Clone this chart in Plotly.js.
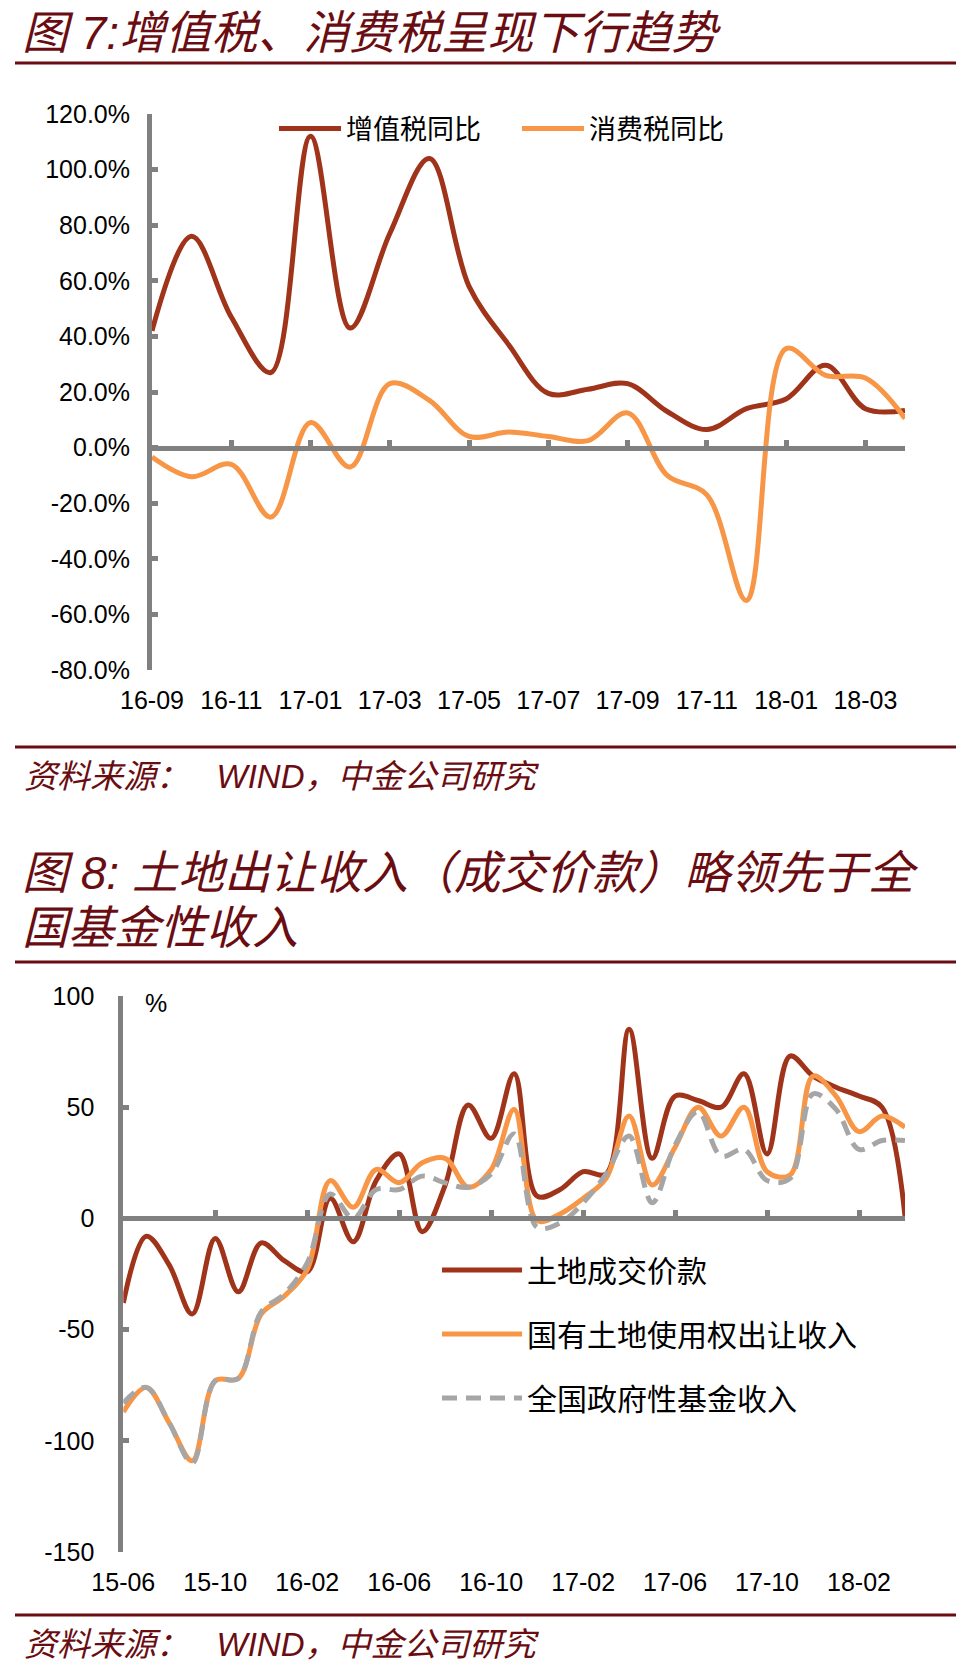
<!DOCTYPE html>
<html>
<head>
<meta charset="utf-8">
<script src="https://cdn.plot.ly/plotly-3.0.1.min.js"></script>
<style>
  html, body { margin: 0; padding: 0; background: #ffffff; }
  #chart { width: 980px; height: 1669px; }
</style>
</head>
<body>
<div id="chart"></div>
<script>
// ---------- Chart 1 data ----------
const months1 = ['16-09','16-10','16-11','16-12','17-01','17-02','17-03','17-04','17-05','17-06',
                 '17-07','17-08','17-09','17-10','17-11','17-12','18-01','18-02','18-03','18-04'];
const ticks1 = ['16-09','16-11','17-01','17-03','17-05','17-07','17-09','17-11','18-01','18-03'];
const yTicks1 = [-80, -60, -40, -20, 0, 20, 40, 60, 80, 100, 120];
const yTickLabels1 = ['-80.0%','-60.0%','-40.0%','-20.0%','0.0%','20.0%','40.0%','60.0%','80.0%','100.0%','120.0%'];
const vatYoY = [42, 76, 47, 27, 112, 43, 77, 104, 58, 37, 19.5, 21, 23, 13, 6.5, 14, 17.5, 29.6, 14, 13.4];
const consumptionTaxYoY = [-3.4, -10.5, -6, -25, 9, -7, 23, 17, 4, 5.6, 4, 2.5, 12.5, -10, -17, -55, 35.6, 26, 25, 10.5];
const names1 = ['增值税同比', '消费税同比'];

// ---------- Chart 2 data ----------
const months2 = ['15-06','15-07','15-08','15-09','15-10','15-11','15-12','16-01','16-02','16-03',
                 '16-04','16-05','16-06','16-07','16-08','16-09','16-10','16-11','16-12','17-01',
                 '17-02','17-03','17-04','17-05','17-06','17-07','17-08','17-09','17-10','17-11',
                 '17-12','18-01','18-02','18-03','18-04'];
const ticks2 = ['15-06','15-10','16-02','16-06','16-10','17-02','17-06','17-10','18-02'];
const yTicks2 = [-150, -100, -50, 0, 50, 100];
const yTickLabels2 = ['-150', '-100', '-50', '0', '50', '100'];
const landDealPrice = [-38, -8, -21, -43, -9, -33, -11, -19, -24, 9, -10.5, 17, 29, -6, 15, 51, 36, 65, 10, 13,
                       21, 20, 85, 27, 55, 53, 50, 65, 29, 73, 64, 59, 55, 50, 1];
const landUseRightIncome = [-87, -76, -92, -109, -73, -72, -43, -35, -23, 17, 5, 22, 16, 25, 27, 14, 22, 49, -1, 2,
                            9, 18, 46, 15, 32, 50, 37, 50, 21, 19.5, 64, 55, 39, 46, 41];
const govFundIncome = [-83, -76, -92, -110, -73, -72, -42, -34, -20, 11, 0, 13, 13, 19, 16, 14, 20, 38, -4, -2,
                       7, 20, 37, 7, 33, 48, 28, 31, 17, 18, 56, 49, 31, 35, 35];
const names2 = ['土地成交价款', '国有土地使用权出让收入', '全国政府性基金收入'];

// ---------- styling ----------
const RED = '#A0341A', ORANGE = '#F79646', GRAY = '#A6A6A6', AXIS = '#808080', MAROON = '#6A0D12';
const H = 1669, W = 980;
const py = v => 1 - v / H;   // pixel (top-down) -> paper
const px = v => v / W;
const tickFont = {family: 'Liberation Sans, Arial, sans-serif', size: 25, color: '#000000'};
const cjk = 'Liberation Sans, Noto Sans CJK SC, sans-serif';

// plot areas (pixels)
const c1 = {l: 152, r: 905, t: 114, b: 670};
const c2 = {l: 123.3, r: 905, t: 996, b: 1552};
const yr1 = [-80, 120], yr2 = [-150, 100];
const zero1 = py(c1.b - (0 - yr1[0]) / (yr1[1] - yr1[0]) * (c1.b - c1.t));
const zero2 = py(c2.b - (0 - yr2[0]) / (yr2[1] - yr2[0]) * (c2.b - c2.t));

const line = (color, dash) => ({color: color, width: 5, shape: 'spline', smoothing: 1, dash: dash || 'solid'});

const traces = [
  {type: 'scatter', mode: 'lines', name: names1[0], x: months1, y: vatYoY, xaxis: 'x', yaxis: 'y',
   line: line(RED), legend: 'legend', hoverinfo: 'x+y'},
  {type: 'scatter', mode: 'lines', name: names1[1], x: months1, y: consumptionTaxYoY, xaxis: 'x', yaxis: 'y',
   line: line(ORANGE), legend: 'legend', hoverinfo: 'x+y'},
  {type: 'scatter', mode: 'lines', x: months1, y: months1.map(() => null), xaxis: 'x2', yaxis: 'y',
   showlegend: false, hoverinfo: 'skip'},

  {type: 'scatter', mode: 'lines', name: names2[0], x: months2, y: landDealPrice, xaxis: 'x3', yaxis: 'y3',
   line: line(RED), legend: 'legend2', legendgroup: 'a', hoverinfo: 'x+y'},
  {type: 'scatter', mode: 'lines', name: names2[1], x: months2, y: landUseRightIncome, xaxis: 'x3', yaxis: 'y3',
   line: line(ORANGE), legend: 'legend2', legendgroup: 'b', hoverinfo: 'x+y'},
  {type: 'scatter', mode: 'lines', name: names2[2], x: months2, y: govFundIncome, xaxis: 'x3', yaxis: 'y3',
   line: line(GRAY, '15px,9px'), legend: 'legend2', legendgroup: 'c', hoverinfo: 'x+y'},
  {type: 'scatter', mode: 'lines', x: months2, y: months2.map(() => null), xaxis: 'x4', yaxis: 'y3',
   showlegend: false, hoverinfo: 'skip'}
];

const baseX = {
  type: 'category', showgrid: false, zeroline: false, showline: false, ticks: '',
  tickmode: 'array', tickfont: tickFont, ticklabelstandoff: 13, fixedrange: true
};
const zeroX = {
  type: 'category', showgrid: false, zeroline: false, showline: true, linecolor: AXIS, linewidth: 5,
  ticks: 'inside', ticklen: 6, tickwidth: 5, tickcolor: AXIS, showticklabels: false,
  tickmode: 'array', anchor: 'free', fixedrange: true
};
const baseY = {
  showgrid: false, zeroline: false, showline: true, linecolor: AXIS, linewidth: 5,
  ticks: 'inside', ticklen: 6, tickwidth: 5, tickcolor: AXIS, tickfont: tickFont, fixedrange: true,
  tickmode: 'array'
};

const layout = {
  width: W, height: H,
  margin: {l: 0, r: 0, t: 0, b: 0},
  paper_bgcolor: '#ffffff', plot_bgcolor: 'rgba(0,0,0,0)',
  showlegend: true,
  xaxis: Object.assign({}, baseX, {domain: [px(c1.l), px(c1.r)], anchor: 'y', range: [0, months1.length - 1],
    tickvals: ticks1, ticktext: ticks1}),
  xaxis2: Object.assign({}, zeroX, {overlaying: 'x', position: zero1, range: [0, months1.length - 1],
    tickvals: ticks1}),
  yaxis: Object.assign({}, baseY, {domain: [py(c1.b), py(c1.t)], anchor: 'x', range: yr1,
    tickvals: yTicks1, ticktext: yTickLabels1, ticklabelstandoff: 12}),
  xaxis3: Object.assign({}, baseX, {domain: [px(c2.l), px(c2.r)], anchor: 'y3', range: [0, months2.length - 1],
    tickvals: ticks2, ticktext: ticks2}),
  xaxis4: Object.assign({}, zeroX, {overlaying: 'x3', position: zero2, range: [0, months2.length - 1],
    tickvals: ticks2}),
  yaxis3: Object.assign({}, baseY, {domain: [py(c2.b), py(c2.t)], anchor: 'x3', range: yr2,
    tickvals: yTicks2, ticktext: yTickLabels2, ticklabelstandoff: 19}),
  legend: {orientation: 'h', x: px(274), xanchor: 'left', y: py(129), yanchor: 'middle',
    font: {family: 'Noto Sans CJK SC, sans-serif', size: 27, color: '#000000'},
    bgcolor: 'rgba(0,0,0,0)', itemwidth: 62, entrywidth: 166, itemclick: false, itemdoubleclick: false},
  legend2: {orientation: 'v', x: px(437), xanchor: 'left', y: py(1244), yanchor: 'top',
    font: {family: 'Noto Sans CJK SC, sans-serif', size: 30, color: '#000000'},
    bgcolor: 'rgba(0,0,0,0)', itemwidth: 80, tracegroupgap: 22, traceorder: 'grouped',
    itemclick: false, itemdoubleclick: false},
  shapes: [
    {type: 'line', xref: 'paper', yref: 'paper', x0: px(15), x1: px(956), y0: py(63), y1: py(63), line: {color: MAROON, width: 3}},
    {type: 'line', xref: 'paper', yref: 'paper', x0: px(15), x1: px(956), y0: py(747), y1: py(747), line: {color: MAROON, width: 3}},
    {type: 'line', xref: 'paper', yref: 'paper', x0: px(15), x1: px(956), y0: py(962), y1: py(962), line: {color: MAROON, width: 3}},
    {type: 'line', xref: 'paper', yref: 'paper', x0: px(15), x1: px(956), y0: py(1615), y1: py(1615), line: {color: MAROON, width: 3}}
  ],
  annotations: [
    {xref: 'paper', yref: 'paper', x: px(20), y: py(33), xanchor: 'left', yanchor: 'middle', showarrow: false,
     text: '<i>图 7:增值税、消费税呈现下行趋势</i>', font: {family: cjk, size: 46, color: MAROON}},
    {xref: 'paper', yref: 'paper', x: px(22), y: py(776), xanchor: 'left', yanchor: 'middle', showarrow: false,
     text: '<i>资料来源：   WIND，中金公司研究</i>', font: {family: cjk, size: 33, color: MAROON}},
    {xref: 'paper', yref: 'paper', x: px(20), y: py(873), xanchor: 'left', yanchor: 'middle', showarrow: false,
     text: '<i>图 8: 土地出让收入（成交价款）略领先于全</i>', font: {family: cjk, size: 46, color: MAROON}},
    {xref: 'paper', yref: 'paper', x: px(20), y: py(928), xanchor: 'left', yanchor: 'middle', showarrow: false,
     text: '<i>国基金性收入</i>', font: {family: cjk, size: 46, color: MAROON}},
    {xref: 'paper', yref: 'paper', x: px(22), y: py(1644), xanchor: 'left', yanchor: 'middle', showarrow: false,
     text: '<i>资料来源：   WIND，中金公司研究</i>', font: {family: cjk, size: 33, color: MAROON}},
    {xref: 'paper', yref: 'paper', x: px(143), y: py(1003), xanchor: 'left', yanchor: 'middle', showarrow: false,
     text: '%', font: tickFont}
  ]
};

Plotly.newPlot('chart', traces, layout, {displayModeBar: false});
</script>
</body>
</html>
